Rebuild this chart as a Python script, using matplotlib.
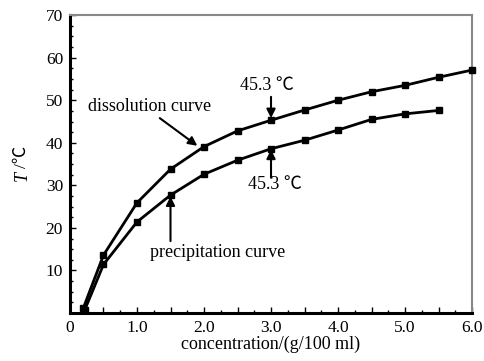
import matplotlib
matplotlib.use("Agg")
import matplotlib.pyplot as plt
from matplotlib.ticker import MultipleLocator, FuncFormatter

plt.rcParams['font.family'] = ['Liberation Serif', 'Noto Sans CJK SC', 'DejaVu Sans']

diss_x = [0.2, 0.5, 1.0, 1.5, 2.0, 2.5, 3.0, 3.5, 4.0, 4.5, 5.0, 5.5, 6.0]
diss_y = [1.2, 13.6, 25.9, 33.8, 39.1, 42.8, 45.3, 47.7, 50.0, 52.0, 53.5, 55.4, 57.1]
prec_x = [0.22, 0.5, 1.0, 1.5, 2.0, 2.5, 3.0, 3.5, 4.0, 4.5, 5.0, 5.5]
prec_y = [0.7, 11.4, 21.4, 27.7, 32.6, 35.9, 38.6, 40.6, 43.0, 45.5, 46.8, 47.6]

fig = plt.figure(figsize=(4.85, 3.61), dpi=100)
ax = fig.add_axes([0.1443, 0.133, 0.829, 0.825])

ax.plot(diss_x, diss_y, color='black', lw=2, marker='s', ms=4, clip_on=False, zorder=3)
ax.plot(prec_x, prec_y, color='black', lw=2, marker='s', ms=4, clip_on=False, zorder=3)

ax.set_xlim(0, 6.0)
ax.set_ylim(0, 70)

ax.xaxis.set_major_locator(MultipleLocator(0.5))
ax.xaxis.set_minor_locator(MultipleLocator(0.25))
ax.xaxis.set_major_formatter(FuncFormatter(lambda v, p: ('0' if abs(v) < 1e-9 else f'{v:.1f}') if abs(v - round(v)) < 1e-9 else ''))
ax.yaxis.set_major_locator(MultipleLocator(10))
ax.yaxis.set_minor_locator(MultipleLocator(2.5))
ax.yaxis.set_major_formatter(FuncFormatter(lambda v, p: '' if abs(v) < 1e-9 else f'{int(v)}'))

ax.tick_params(axis='both', which='major', direction='in', length=4, width=1, labelsize=12.5, pad=5)
ax.tick_params(axis='both', which='minor', direction='in', length=2, width=1)
ax.tick_params(top=False, right=False)

for s in ['left', 'bottom']:
    ax.spines[s].set_linewidth(2.2)
    ax.spines[s].set_color('black')
for s in ['top', 'right']:
    ax.spines[s].set_linewidth(1.5)
    ax.spines[s].set_color('#888888')

ax.set_xlabel('concentration/(g/100 ml)', fontsize=13, labelpad=0)

# y label: italic T plus "/℃", rotated
fig.text(22 / 485, 1 - 176 / 361, 'T', rotation=90, fontsize=13, style='italic',
         ha='center', va='center', family=['Liberation Serif'])
fig.text(22 / 485, 1 - 157 / 361, '/℃', rotation=90, fontsize=12.5,
         ha='center', va='center')

fs = 13
arrow = dict(arrowstyle='-|>', color='black', lw=1.5, mutation_scale=13, shrinkA=0, shrinkB=0)
ax.text(2.94, 53.5, '45.3 ℃', ha='center', va='center', fontsize=fs)
ax.annotate('', xy=(3.0, 45.8), xytext=(3.0, 50.8), arrowprops=arrow)
ax.text(3.06, 30.1, '45.3 ℃', ha='center', va='center', fontsize=fs)
ax.annotate('', xy=(3.0, 38.4), xytext=(3.0, 31.8), arrowprops=arrow)
ax.text(1.19, 48.6, 'dissolution curve', ha='center', va='center', fontsize=fs)
ax.annotate('', xy=(1.9, 39.3), xytext=(1.34, 45.8), arrowprops=arrow)
ax.text(2.21, 14.3, 'precipitation curve', ha='center', va='center', fontsize=fs)
ax.annotate('', xy=(1.5, 27.4), xytext=(1.5, 16.9), arrowprops=arrow)

fig.savefig('out.png', dpi=100)
